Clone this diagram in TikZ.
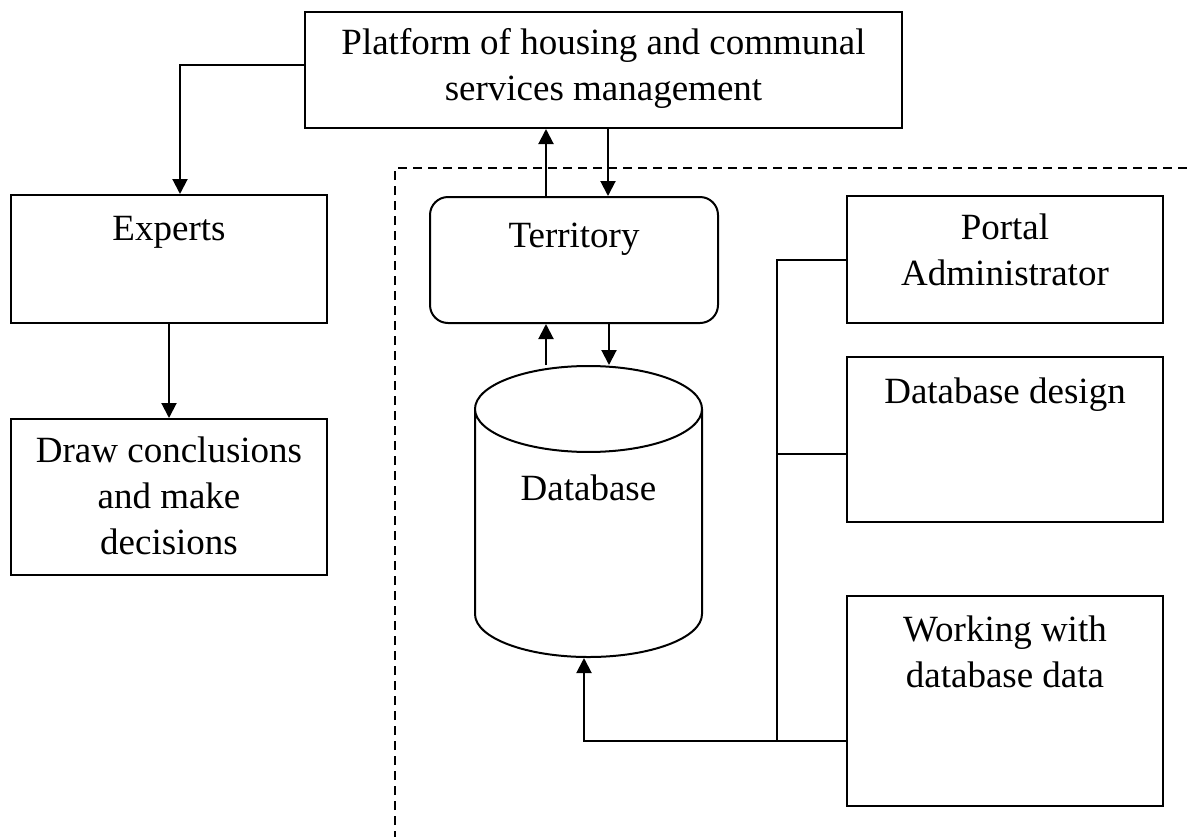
\documentclass[tikz,border=0pt]{standalone}
\usepackage{fontspec}
\setmainfont{Liberation Serif}
\usetikzlibrary{shapes.geometric, positioning, arrows.meta}
\tikzstyle{box}=[rectangle, draw, line width=2pt, align=center, inner sep=0pt]
\tikzstyle{roundbox}=[box, rounded corners=18pt]
\tikzstyle{dbase}=[cylinder, shape border rotate=90, shape aspect=0.634, draw,
line width=2pt, align=center, inner sep=0pt, minimum width=227pt, minimum height=291pt]
\tikzstyle{arrow}=[-{Triangle[length=15pt, width=15pt]}, line width=2pt]
\tikzstyle{link}=[line width=2pt]
\tikzstyle{border}=[dash pattern=on 9pt off 6pt, line width=2.5pt]

\begin{document}
\begin{tikzpicture}[x=1pt, y=-1pt, font=\fontsize{37}{46}\selectfont]
  \useasboundingbox (0,0) rectangle (1189,836);
  \node(platform) [box, minimum width=597pt, text height=88pt, text depth=28pt] at (603.5,70)
    {Platform of housing and communal\\services management};
  \node(experts) [box, minimum width=316pt, text height=45pt, text depth=83pt] at (169,259) {Experts};
  \node(decide) [box, minimum width=316pt, text height=135pt, text depth=21pt, below=94pt of experts]
    {Draw conclusions\\and make\\decisions};
  \node(territory) [roundbox, minimum width=288pt, text height=50pt, text depth=76pt] at (574,260) {Territory};
  \node(database) [dbase, text height=26pt, text depth=93pt] at (588.5,533.5) {Database};
  \node(portal) [box, minimum width=316pt, text height=89pt, text depth=38pt] at (1005,259.5)
    {Portal\\Administrator};
  \node(design) [box, minimum width=316pt, text height=46pt, text depth=119pt, below=32pt of portal]
    {Database design};
  \node(working) [box, minimum width=316pt, text height=91pt, text depth=119pt, below=72pt of design]
    {Working with\\database data};
  % dashed frame
  \draw[border] (395,840) |- (1195,168);
  % connections
  \draw[arrow] ([yshift=5pt]platform.west) -| ([xshift=11pt]experts.north);
  \draw[arrow] (experts) -- (decide);
  \draw[arrow] ([xshift=-28pt]territory.north) -- ([xshift=-28pt]territory.north |- platform.south);
  \draw[arrow] ([xshift=34pt]territory.north |- platform.south) -- ([xshift=34pt]territory.north);
  \draw[arrow] ([xshift=-28pt]territory.south |- database.north) -- ([xshift=-28pt]territory.south);
  \draw[arrow] ([xshift=35pt]territory.south) -- ([xshift=35pt]territory.south |- database.north);
  \coordinate (joint) at ([xshift=-69pt, yshift=-40pt]working.west);
  \draw[link] (portal.west) -| (joint);
  \draw[link] ([yshift=-14.5pt]design.west) -- ([yshift=-14.5pt]design.west -| joint);
  \draw[arrow] ([yshift=-40pt]working.west) -| ([xshift=-4.5pt]database.south);
\end{tikzpicture}
\end{document}
